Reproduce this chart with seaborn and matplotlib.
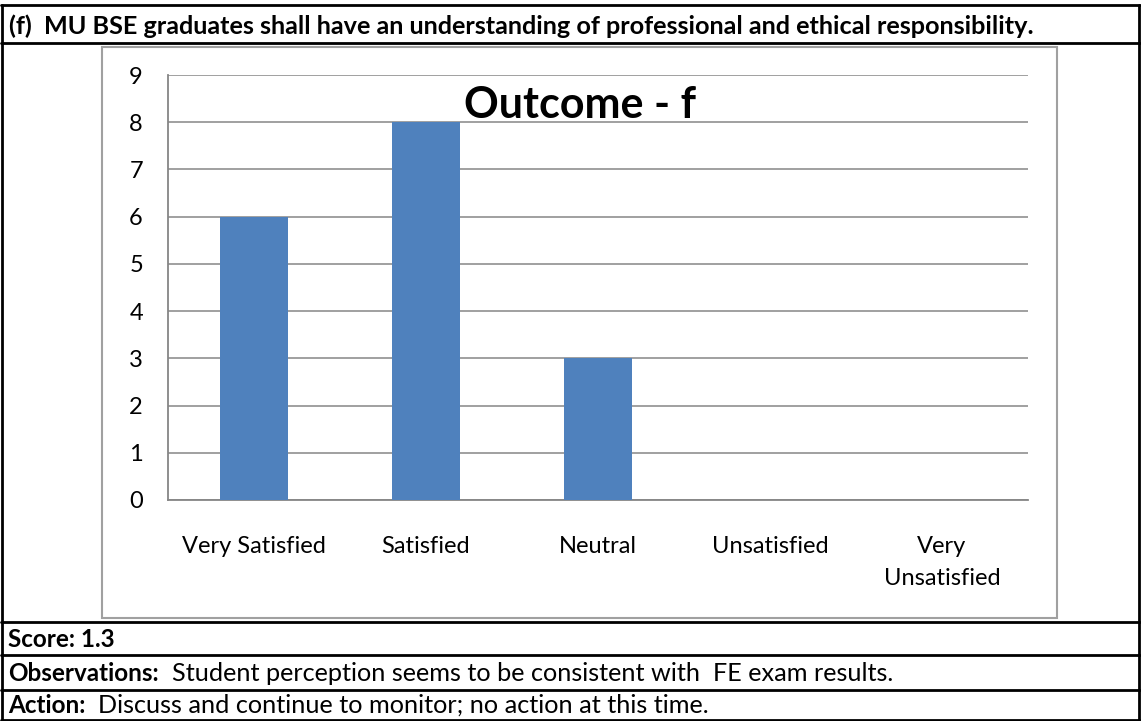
import numpy as np
import pandas as pd
import matplotlib.pyplot as plt
from matplotlib.lines import Line2D
from matplotlib.patches import Rectangle
import seaborn as sns

# data
categories = ['Very Satisfied', 'Satisfied', 'Neutral', 'Unsatisfied', 'Very\nUnsatisfied']
counts = [6, 8, 3, 0, 0]
y_ticks = list(range(0, 10))
chart_title = 'Outcome - f'
heading = '(f)  MU BSE graduates shall have an understanding of professional and ethical responsibility.'
score_text = 'Score: 1.3'
obs_label = 'Observations:'
obs_text = '  Student perception seems to be consistent with  FE exam results.'
action_label = 'Action:'
action_text = '  Discuss and continue to monitor; no action at this time.'

W, H = 1141, 721
sns.set_style('white')
plt.rcParams['font.family'] = ['Lato', 'DejaVu Sans']
plt.rcParams['text.color'] = 'black'
plt.rcParams['xtick.labelcolor'] = 'black'
plt.rcParams['ytick.labelcolor'] = 'black'

fig = plt.figure(figsize=(W / 100, H / 100), dpi=100)


def fx(px):
    return px / W


def fy(py):
    return 1 - py / H


grey = '#868686'

# plot area
ax = fig.add_axes([fx(168), fy(500), fx(1028) - fx(168), fy(75) - fy(500)])
df = pd.DataFrame({'category': categories, 'count': counts})
sns.barplot(data=df, x='category', y='count', color='#4F81BD', width=0.4,
            saturation=1, linewidth=0, ax=ax, zorder=3)
ax.set_xlim(-0.5, len(categories) - 0.5)
ax.set_ylim(0, 9)
ax.set_yticks(y_ticks)
ax.yaxis.grid(True, color=grey, lw=1.1)
ax.set_axisbelow(True)
ax.set_xlabel('')
ax.set_ylabel('')
for s in ['top', 'right']:
    ax.spines[s].set_visible(False)
for s in ['left', 'bottom']:
    ax.spines[s].set_color(grey)
    ax.spines[s].set_linewidth(1.3)
ax.set_xticks(np.arange(-0.5, len(categories), 1), minor=True)
ax.tick_params(axis='x', which='minor', length=6, width=1.3, color=grey)
ax.tick_params(axis='x', which='major', length=0, pad=26)
ax.tick_params(axis='y', length=6, width=1.3, color=grey, pad=12, labelsize=17)
ax.set_xticks(range(len(categories)))
ax.set_xticklabels(categories, fontsize=17, linespacing=1.65)

# chart frame and title
fig.add_artist(Rectangle((fx(102), fy(618)), fx(1057) - fx(102), fy(47) - fy(618),
                         transform=fig.transFigure, fill=False, edgecolor='#A0A0A0', lw=1.5))
fig.text(fx(579.5), fy(118), chart_title, fontsize=31, fontweight='bold',
         ha='center', va='baseline')

# table lines
for y in [5, 43, 622, 655, 690, 720]:
    fig.add_artist(Line2D([fx(1), fx(1140)], [fy(y), fy(y)], color='black', lw=2,
                          transform=fig.transFigure))
for x in [2, 1139]:
    fig.add_artist(Line2D([fx(x), fx(x)], [fy(5), fy(720)], color='black', lw=2,
                          transform=fig.transFigure))

fig.text(fx(9), fy(34), heading, fontsize=18.2, fontweight='bold', va='baseline')
fig.text(fx(8), fy(647), score_text, fontsize=17.5, fontweight='bold', va='baseline')


def label_pair(y, bold, normal):
    t = fig.text(fx(8), fy(y), bold, fontsize=17.5, fontweight='bold', va='baseline')
    fig.canvas.draw()
    bb = t.get_window_extent()
    fig.text(bb.x1 / W, fy(y), normal, fontsize=18.2, va='baseline')


label_pair(681, obs_label, obs_text)
label_pair(713, action_label, action_text)

plt.savefig('out.png', dpi=100)
